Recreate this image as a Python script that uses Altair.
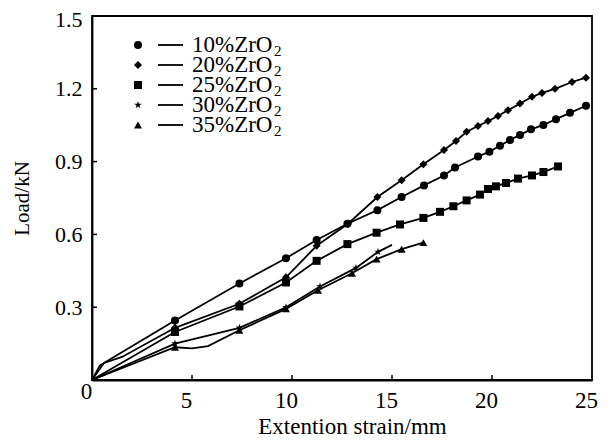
import altair as alt
import pandas as pd

series = ["10%ZrO₂", "20%ZrO₂", "25%ZrO₂", "30%ZrO₂", "35%ZrO₂"]

x10 = [0, 0.4, 1.2, 4.15, 7.37, 9.7, 11.23, 12.77, 14.27, 15.48, 16.6, 17.6, 18.15, 19.3, 19.87, 20.4, 20.9, 21.4, 21.95, 22.57, 23.2, 23.9, 24.7]
y10 = [0, 0.06, 0.10, 0.245, 0.398, 0.502, 0.577, 0.644, 0.700, 0.754, 0.802, 0.843, 0.876, 0.921, 0.941, 0.965, 0.989, 1.010, 1.033, 1.051, 1.075, 1.101, 1.130]
m10 = [0, 0, 0] + [1] * 20

x20 = [0, 0.6, 1.5, 4.15, 7.37, 9.7, 11.23, 12.8, 14.27, 15.48, 16.57, 17.6, 18.2, 18.73, 19.3, 19.8, 20.3, 20.8, 21.4, 22.0, 22.5, 23.15, 24.0, 24.7]
y20 = [0, 0.07, 0.095, 0.215, 0.314, 0.423, 0.553, 0.644, 0.754, 0.823, 0.889, 0.948, 0.985, 1.023, 1.047, 1.067, 1.088, 1.112, 1.139, 1.167, 1.183, 1.200, 1.228, 1.246]
m20 = [0, 0, 0] + [1] * 21

x25 = [0, 4.15, 7.37, 9.7, 11.23, 12.77, 14.23, 15.4, 16.57, 17.4, 18.07, 18.73, 19.4, 19.8, 20.2, 20.7, 21.3, 22.0, 22.57, 23.3]
y25 = [0, 0.198, 0.303, 0.402, 0.491, 0.560, 0.607, 0.641, 0.668, 0.693, 0.716, 0.740, 0.764, 0.787, 0.798, 0.812, 0.830, 0.843, 0.857, 0.880]
m25 = [0] + [1] * 19

x30 = [0, 4.15, 7.37, 9.7, 11.4, 13.2, 14.3, 15.0]
y30 = [0, 0.150, 0.215, 0.300, 0.385, 0.462, 0.528, 0.557]
m30 = [0, 1, 1, 1, 1, 1, 1, 0]

x35 = [0, 4.15, 5.0, 5.8, 7.37, 9.7, 11.3, 13.0, 14.23, 15.48, 16.57]
y35 = [0, 0.135, 0.130, 0.140, 0.205, 0.293, 0.370, 0.440, 0.498, 0.539, 0.566]
m35 = [0, 1, 0, 0, 1, 1, 1, 1, 1, 1, 1]

x_ticks = [5, 10, 15, 20]
y_ticks = [0.3, 0.6, 0.9, 1.2]

star = "M0,-1L0.2245,-0.309L0.951,-0.309L0.363,0.118L0.588,0.809L0,0.382L-0.588,0.809L-0.363,0.118L-0.951,-0.309L-0.2245,-0.309Z"
shapes = ["circle", "diamond", "square", star, "triangle-up"]

rows = []
for name, xs_, ys_, ms_ in zip(series, [x10, x20, x25, x30, x35], [y10, y20, y25, y30, y35], [m10, m20, m25, m30, m35]):
    for i, (a, b, m) in enumerate(zip(xs_, ys_, ms_)):
        rows.append({"series": name, "x": a, "y": b, "marker": m, "order": i})
df = pd.DataFrame(rows)

leg_df = pd.DataFrame({
    "series": series,
    "idx": list(range(len(series))),
    "main": [s.replace("₂", "") for s in series],
    "sub": ["2"] * len(series),
})

FONT = "Liberation Serif"

xs = alt.Scale(domain=[0, 25], nice=False)
ys = alt.Scale(domain=[0, 1.5], nice=False)
shape_scale = alt.Scale(domain=series, range=shapes)

base = alt.Chart(df)

lines = base.mark_line(color="black", strokeWidth=1.8).encode(
    x=alt.X("x:Q", scale=xs, axis=alt.Axis(
        values=[0, 5, 10, 15, 20, 25], title="Extention strain/mm", tickSize=0,
        labelOffset=-6, labelFlush=False, labelFontSize=23,
        labelPadding={"condition": {"test": "datum.value == 0", "value": 0}, "value": 9},
        titlePadding=3, titleFontSize=23, titleX=260, grid=False)),
    y=alt.Y("y:Q", scale=ys, axis=alt.Axis(
        values=[0.3, 0.6, 0.9, 1.2, 1.5], title="Load/kN", tickSize=0, labelPadding=10,
        labelOffset={"condition": {"test": "datum.value == 1.5", "value": 3}, "value": 0},
        labelFontSize=22, format=".1f", titlePadding=22, titleFontSize=21, grid=False)),
    detail="series:N",
    order="order:Q",
)

points = base.mark_point(filled=True, color="black", opacity=1, size=64).encode(
    x=alt.X("x:Q", scale=xs),
    y=alt.Y("y:Q", scale=ys, axis=None),
    shape=alt.Shape("series:N", scale=shape_scale, legend=None),
).transform_filter("datum.marker == 1")

xt = alt.Chart(pd.DataFrame({"t": x_ticks})).mark_rule(color="black", strokeWidth=1.5).encode(
    x=alt.X("t:Q", scale=xs), y=alt.value(364), y2=alt.value(359))
yt = alt.Chart(pd.DataFrame({"t": y_ticks})).mark_rule(color="black", strokeWidth=1.5).encode(
    y=alt.Y("t:Q", scale=ys, axis=None), x=alt.value(0), x2=alt.value(5))

leg = alt.Chart(leg_df).transform_calculate(py="29 + 20 * datum.idx")
leg_sym = leg.mark_point(filled=True, color="black", opacity=1, size=64).encode(
    x=alt.value(46), y=alt.Y("py:Q", scale=None, axis=None),
    shape=alt.Shape("series:N", scale=shape_scale, legend=None))
leg_dash = leg.mark_rule(color="black", strokeWidth=1.8).encode(
    x=alt.value(66), x2=alt.value(91), y=alt.Y("py:Q", scale=None, axis=None))
leg_txt = leg.mark_text(align="left", baseline="middle", font=FONT, fontSize=23, color="black").encode(
    x=alt.value(100), y=alt.Y("py:Q", scale=None, axis=None), text="main:N")
leg_sub = leg.mark_text(align="left", baseline="middle", font=FONT, fontSize=15, color="black",
                        dx=82, dy=6).encode(
    x=alt.value(100), y=alt.Y("py:Q", scale=None, axis=None), text="sub:N")

chart = alt.layer(lines, points, xt, yt, leg_sym, leg_dash, leg_txt, leg_sub).resolve_scale(
    y="independent"
).properties(
    width=500, height=364,
    autosize=alt.AutoSizeParams(type="none"),
    padding={"left": 84, "top": 8, "right": 11, "bottom": 60},
).configure_view(stroke="black", strokeWidth=1.8).configure_axis(
    domainColor="black", domainWidth=1.8, labelFont=FONT, titleFont=FONT,
    labelColor="black", titleColor="black", titleFontWeight="normal",
)

chart.save("out.html", embed_options={"renderer": "svg", "actions": False})
